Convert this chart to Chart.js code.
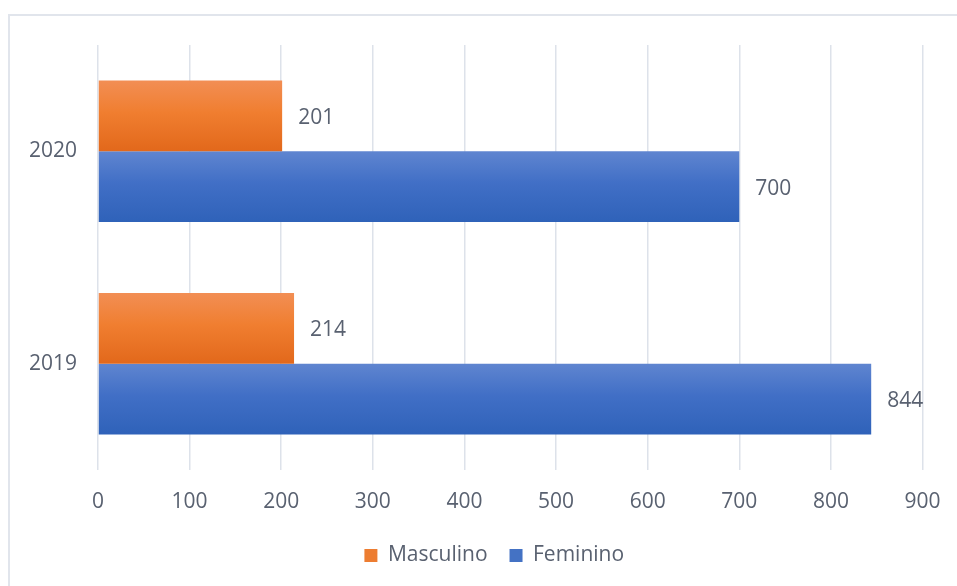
<!DOCTYPE html>
<html>
<head>
<meta charset="utf-8">
<script src="https://cdn.jsdelivr.net/npm/chart.js@4/dist/chart.umd.min.js"></script>
<style>
    html, body { margin: 0; padding: 0; background: #fff; overflow: hidden; }
    #wrap { position: relative; width: 957px; height: 586px; }
    #frame {
        position: absolute; left: 8px; top: 14px; width: 1200px; height: 900px;
        border: 2px solid #e1e5ec; box-sizing: border-box;
    }
    #grafico { position: absolute; left: 0; top: 0; }
</style>
</head>
<body>
<div id="wrap">
    <div id="frame"></div>
    <canvas id="grafico" width="957" height="586"></canvas>
</div>
<script>
// anos (eixo Y) e valores por sexo
const anos = ['2020', '2019'];
const masculino = [201, 214];
const feminino = [700, 844];
const ticksX = [0, 100, 200, 300, 400, 500, 600, 700, 800, 900];

const corTexto = '#596170';
const fonte = "'Open Sans', sans-serif";

// degradê vertical de cada barra (mais claro em cima)
const gradientes = [
    ['#f28e54', '#f07e30', '#e2681b'],
    ['#5f85d0', '#416fc6', '#2f62b9']
];

const pluginGradiente = {
    id: 'gradiente',
    beforeDatasetsDraw(chart) {
        const ctx = chart.ctx;
        chart.data.datasets.forEach((ds, i) => {
            const meta = chart.getDatasetMeta(i);
            meta.data.forEach(bar => {
                const topo = bar.y - bar.height / 2;
                const g = ctx.createLinearGradient(0, topo, 0, topo + bar.height);
                g.addColorStop(0, gradientes[i][0]);
                g.addColorStop(0.45, gradientes[i][1]);
                g.addColorStop(1, gradientes[i][2]);
                bar.options = Object.assign({}, bar.options, { backgroundColor: g });
            });
        });
    }
};

// rótulos com o valor à direita de cada barra
const pluginRotulos = {
    id: 'rotulos',
    afterDatasetsDraw(chart) {
        const ctx = chart.ctx;
        ctx.save();
        ctx.font = '21px ' + fonte;
        ctx.fillStyle = corTexto;
        ctx.textAlign = 'left';
        ctx.textBaseline = 'middle';
        chart.data.datasets.forEach((ds, i) => {
            chart.getDatasetMeta(i).data.forEach((bar, j) => {
                ctx.fillText(String(ds.data[j]), bar.x + 16, bar.y + 2);
            });
        });
        ctx.restore();
    }
};

// legenda centralizada um pouco à direita (sob a área das barras)
const pluginLegenda = {
    id: 'posLegenda',
    afterUpdate(chart) {
        chart.legend.left = 66;
        chart.legend.adjustHitBoxes();
    }
};

Chart.defaults.font.family = fonte;
Chart.defaults.color = corTexto;

new Chart(document.getElementById('grafico'), {
    type: 'bar',
    data: {
        labels: anos,
        datasets: [
            { label: 'Masculino', data: masculino, backgroundColor: '#ed7d31' },
            { label: 'Feminino', data: feminino, backgroundColor: '#4472c4' }
        ]
    },
    options: {
        indexAxis: 'y',
        responsive: false,
        animation: false,
        categoryPercentage: 0.665,
        barPercentage: 1.0,
        layout: { padding: { left: 0, top: 45, right: 34.5, bottom: 10 } },
        scales: {
            x: {
                min: 0,
                max: 900,
                afterBuildTicks(scale) {
                    scale.ticks = ticksX.map(v => ({ value: v }));
                },
                afterFit(scale) {
                    scale.height = 53;
                    scale.paddingLeft = 0;
                    scale.paddingRight = 0;
                },
                grid: { color: '#dde2ea', lineWidth: 1.5, drawTicks: false },
                border: { display: false },
                ticks: { padding: 19, font: { size: 21 }, color: corTexto }
            },
            y: {
                afterFit(scale) { scale.width = 98; },
                grid: { display: false, drawTicks: false },
                border: { display: false },
                ticks: { padding: 21, font: { size: 21 }, color: corTexto }
            }
        },
        plugins: {
            legend: {
                position: 'bottom',
                labels: {
                    boxWidth: 13,
                    boxHeight: 13,
                    padding: 22,
                    font: { size: 21 },
                    color: corTexto
                }
            },
            tooltip: { enabled: false }
        }
    },
    plugins: [pluginGradiente, pluginRotulos, pluginLegenda]
});
</script>
</body>
</html>
